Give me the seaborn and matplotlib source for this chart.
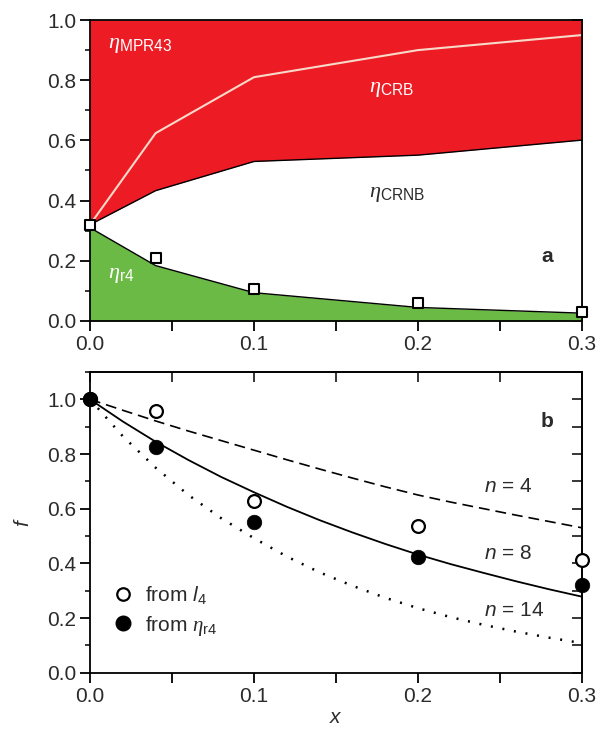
import numpy as np
import matplotlib
matplotlib.use("Agg")
import matplotlib.pyplot as plt
import seaborn as sns
from matplotlib.ticker import MultipleLocator
from matplotlib.lines import Line2D

# panel a: stacked fractions
x_a = [0.0, 0.04, 0.1, 0.2, 0.3]
eta_r4_top = [0.31, 0.184, 0.094, 0.045, 0.026]
crnb_top = [0.32, 0.433, 0.53, 0.551, 0.601]
crb_line = [0.32, 0.624, 0.81, 0.90, 0.95]
square_y = [0.32, 0.21, 0.107, 0.059, 0.031]

# panel b: f vs x
x_b = [0.0, 0.04, 0.1, 0.2, 0.3]
f_from_l4 = [1.0, 0.957, 0.628, 0.538, 0.412]
f_from_eta = [1.0, 0.827, 0.55, 0.422, 0.321]

x_curve = [0.0, 0.02, 0.04, 0.06, 0.08, 0.1, 0.12, 0.14, 0.16, 0.18,
           0.2, 0.22, 0.24, 0.26, 0.28, 0.3]
f_n4 = [1.0, 0.960, 0.921, 0.884, 0.849, 0.814, 0.779, 0.745, 0.712, 0.680,
        0.650, 0.624, 0.600, 0.576, 0.553, 0.530]
f_n8 = [1.0, 0.919, 0.845, 0.778, 0.716, 0.660, 0.607, 0.558, 0.513, 0.471,
        0.432, 0.397, 0.365, 0.334, 0.305, 0.278]
f_n14 = [1.0, 0.865, 0.750, 0.650, 0.565, 0.492, 0.425, 0.367, 0.318, 0.274,
         0.236, 0.203, 0.175, 0.150, 0.128, 0.108]

RED = "#ed1c24"
GREEN = "#6bba45"
TXT = "#2b2b2b"

sns.set_theme(style="ticks")
plt.rcParams["font.family"] = ["Liberation Sans", "DejaVu Sans"]
plt.rcParams["mathtext.fontset"] = "custom"
plt.rcParams["mathtext.rm"] = "Liberation Sans"
plt.rcParams["mathtext.it"] = "Liberation Serif:italic"
plt.rcParams["mathtext.sf"] = "Liberation Sans:italic"
plt.rcParams["mathtext.bf"] = "Liberation Sans:bold"

FS = 15
FS_ANN = 16
fig = plt.figure(figsize=(5.96, 7.33), dpi=100)
ax1 = fig.add_axes([0.151, 0.5621, 0.8255, 0.4106])
ax2 = fig.add_axes([0.151, 0.0823, 0.8255, 0.4102])


def style_axes(ax):
    for sp in ax.spines.values():
        sp.set_visible(True)
        sp.set_linewidth(1.3)
        sp.set_color("black")
    ax.xaxis.set_major_locator(MultipleLocator(0.1))
    ax.xaxis.set_minor_locator(MultipleLocator(0.05))
    ax.yaxis.set_major_locator(MultipleLocator(0.2))
    ax.yaxis.set_minor_locator(MultipleLocator(0.1))
    ax.tick_params(axis="x", which="both", direction="out", length=7, width=1.3,
                   labelsize=FS, colors="black", labelcolor=TXT, pad=3)
    ax.tick_params(axis="y", which="major", direction="out", length=7, width=1.3,
                   labelsize=FS, colors="black", labelcolor=TXT, pad=3)
    ax.tick_params(axis="y", which="minor", direction="out", length=3.5, width=1.3)
    ax.set_xticks([0.0, 0.1, 0.2, 0.3])
    ax.set_xticklabels(["0.0", "0.1", "0.2", "0.3"])
    ax.set_xlim(0, 0.3)
    sec = ax.secondary_yaxis("right")
    sec.yaxis.set_major_locator(MultipleLocator(0.1))
    sec.tick_params(direction="in", length=7, width=1.3, labelright=False)
    sec.spines["right"].set_linewidth(1.3)
    return sec


# ---- panel a ----
ax1.fill_between(x_a, crnb_top, 1.0, color=RED, lw=0)
ax1.fill_between(x_a, eta_r4_top, crnb_top, color="white", lw=0)
ax1.fill_between(x_a, 0, eta_r4_top, color=GREEN, lw=0)
sns.lineplot(x=x_a, y=crnb_top, ax=ax1, color="black", lw=1.0)
sns.lineplot(x=x_a, y=eta_r4_top, ax=ax1, color="black", lw=1.0)
sns.lineplot(x=x_a, y=crb_line, ax=ax1, color="#f8d8c8", lw=1.5)
sns.scatterplot(x=x_a, y=square_y, ax=ax1, marker="s", s=50, facecolor="white",
                edgecolor="black", linewidth=1.5, clip_on=False, zorder=5)
ax1.set_ylim(0, 1.0)
style_axes(ax1)

ax1.text(0.011, 0.917, r"$\eta_{\rm MPR43}$", color="white", fontsize=FS_ANN, va="center")
ax1.text(0.170, 0.774, r"$\eta_{\rm CRB}$", color="white", fontsize=FS_ANN, va="center")
ax1.text(0.170, 0.425, r"$\eta_{\rm CRNB}$", color=TXT, fontsize=FS_ANN, va="center")
ax1.text(0.011, 0.153, r"$\eta_{\rm r4}$", color="white", fontsize=FS_ANN, va="center")
ax1.text(0.275, 0.213, "a", fontsize=FS, fontweight="bold", va="center", color=TXT)

# ---- panel b ----
sns.lineplot(x=x_curve, y=f_n4, ax=ax2, color="black", lw=1.2,
             linestyle=(0, (6.5, 3.6)))
sns.lineplot(x=x_curve, y=f_n8, ax=ax2, color="black", lw=1.3)
sns.lineplot(x=x_curve, y=f_n14, ax=ax2, color="black", lw=1.8,
             linestyle=(0, (0.8, 3.9)))
sns.scatterplot(x=x_b, y=f_from_l4, ax=ax2, s=85, facecolor="white",
                edgecolor="black", linewidth=1.6, clip_on=False, zorder=5)
sns.scatterplot(x=x_b, y=f_from_eta, ax=ax2, s=110, color="black",
                edgecolor="black", linewidth=0.5, clip_on=False, zorder=6)
ax2.set_ylim(0, 1.1)
style_axes(ax2)
secx = ax2.secondary_xaxis("top")
secx.xaxis.set_major_locator(MultipleLocator(0.05))
secx.tick_params(direction="in", length=7, width=1.3, labeltop=False)
secx.spines["top"].set_linewidth(1.3)

ax2.text(0.275, 0.918, "b", fontsize=FS, fontweight="bold", va="center", color=TXT)
ax2.text(0.240, 0.68, r"$\mathsf{n}$ = 4", fontsize=FS, va="center", color=TXT)
ax2.text(0.240, 0.437, r"$\mathsf{n}$ = 8", fontsize=FS, va="center", color=TXT)
ax2.text(0.240, 0.229, r"$\mathsf{n}$ = 14", fontsize=FS, va="center", color=TXT)

handles = [
    Line2D([], [], marker="o", ls="none", markersize=9, markerfacecolor="white",
           markeredgecolor="black", markeredgewidth=1.6),
    Line2D([], [], marker="o", ls="none", markersize=10.5, markerfacecolor="black",
           markeredgecolor="black"),
]
labels = [r"from $\mathsf{l}_{\rm 4}$", r"from $\eta_{\rm r4}$"]
leg = ax2.legend(handles, labels, loc="lower left", bbox_to_anchor=(0.0, 0.075),
                 frameon=False, fontsize=FS, handletextpad=0.05, labelspacing=0.35,
                 borderaxespad=0.2)
for t in leg.get_texts():
    t.set_color(TXT)

ax2.set_xlabel(r"$\mathsf{x}$", fontsize=FS, labelpad=2, color=TXT)
ax2.set_ylabel(r"$\mathsf{f}$", fontsize=FS, labelpad=10, color=TXT)

fig.savefig("out.png", dpi=100)
